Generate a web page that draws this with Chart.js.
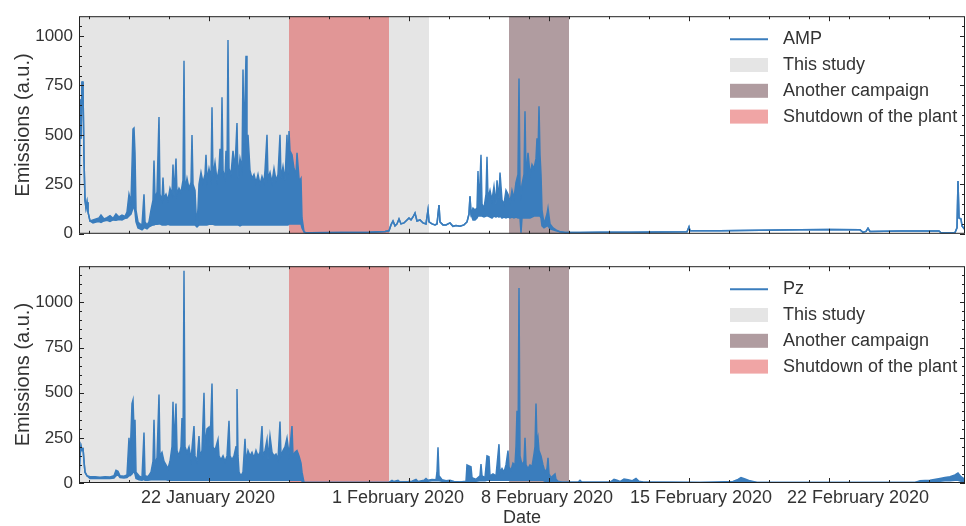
<!DOCTYPE html>
<html>
<head>
<meta charset="utf-8">
<script src="https://cdn.jsdelivr.net/npm/chart.js@4.4.1/dist/chart.umd.min.js"></script>
<style>
  body { margin: 0; background: #fff; }
  #wrap { position: relative; width: 966px; height: 526px; background: #fff; }
  canvas { position: absolute; left: 0; }
  #amp-chart { top: 0; }
  #pz-chart { top: 250px; }
</style>
</head>
<body>
<div id="wrap">
  <canvas id="amp-chart" width="966" height="250"></canvas>
  <canvas id="pz-chart" width="966" height="276"></canvas>
</div>
<script>
// x values are days since 1 January 2020 (21 = 22 January 2020)
const xRange = [14.5, 58.8];
const xMajorDays = [21, 31, 38, 45, 52];
const xMinorDays = [15, 17, 19, 23, 25, 27, 29, 33, 35, 37, 39, 41, 43, 47, 49, 51, 53, 55, 57];
// the date labels sit a little off their tick marks in the original figure
const xLabelDays = [20.95, 30.45, 37.9, 45.6, 53.45];
const xMajorLabels = ['22 January 2020', '1 February 2020', '8 February 2020', '15 February 2020', '22 February 2020'];

const ampMax = 1100;
const pzMax = 1200;
const yTicks = [0, 250, 500, 750, 1000];

// shaded periods
const periodNames = ['This study', 'Another campaign', 'Shutdown of the plant'];
const periodStart = [14.0, 36, 25];
const periodEnd = [32, 39, 30];

// emissions, each row: [day, lower envelope, upper envelope]
const ampRows = [
  [14.50, 10, 10], [14.55, 680, 680], [14.60, 480, 480], [14.65, 770, 770], [14.70, 740, 740],
  [14.75, 380, 380], [14.80, 170, 170], [14.85, 130, 130], [14.90, 160, 160], [14.95, 110, 110],
  [15.05, 65, 65], [15.20, 55, 70], [15.35, 60, 75], [15.50, 62, 80], [15.60, 58, 95],
  [15.75, 65, 75], [15.90, 68, 82], [16.05, 62, 92], [16.20, 70, 78], [16.35, 68, 100],
  [16.50, 72, 85], [16.65, 70, 95], [16.80, 78, 88], [16.90, 80, 110],
  [17.00, 90, 200], [17.10, 100, 160], [17.20, 130, 530], [17.25, 140, 535], [17.30, 110, 410],
  [17.35, 60, 120], [17.45, 30, 60], [17.55, 25, 50], [17.65, 20, 45], [17.75, 30, 200],
  [17.80, 30, 60], [17.90, 25, 45], [18.00, 35, 60],
  [18.10, 40, 120], [18.20, 45, 170], [18.25, 45, 370], [18.30, 48, 180], [18.40, 48, 210],
  [18.50, 50, 590], [18.55, 50, 200], [18.65, 45, 170], [18.70, 45, 285], [18.75, 45, 180],
  [18.85, 45, 200], [18.95, 48, 170], [19.05, 45, 230], [19.15, 45, 200], [19.20, 45, 350],
  [19.25, 45, 190], [19.35, 45, 380], [19.40, 45, 200], [19.50, 45, 230], [19.60, 45, 210],
  [19.70, 45, 270], [19.75, 45, 875], [19.80, 45, 220], [19.90, 45, 280], [20.00, 45, 230],
  [20.10, 45, 260], [20.15, 45, 500], [20.20, 45, 250], [20.30, 45, 220], [20.35, 40, 110],
  [20.40, 35, 50], [20.45, 40, 130],
  [20.50, 45, 250], [20.60, 45, 310], [20.70, 45, 260], [20.80, 45, 300], [20.85, 45, 400],
  [20.90, 45, 270], [21.00, 48, 330], [21.10, 48, 280], [21.15, 48, 640], [21.20, 48, 290],
  [21.30, 45, 360], [21.40, 45, 270], [21.50, 45, 330], [21.55, 45, 430], [21.60, 45, 300],
  [21.65, 45, 690], [21.70, 45, 320], [21.80, 45, 280], [21.85, 45, 420], [21.90, 45, 300],
  [21.95, 45, 980], [22.00, 45, 330], [22.10, 45, 300], [22.20, 45, 420], [22.30, 45, 330],
  [22.40, 45, 560], [22.45, 45, 280], [22.55, 40, 380], [22.65, 45, 330], [22.70, 45, 830],
  [22.75, 45, 450], [22.85, 45, 900], [22.90, 45, 420], [22.95, 45, 500], [23.05, 45, 320],
  [23.15, 45, 280], [23.25, 45, 300], [23.35, 45, 260], [23.45, 45, 300], [23.55, 45, 250],
  [23.65, 45, 290], [23.75, 45, 260], [23.80, 45, 320], [23.90, 45, 500], [23.95, 45, 280],
  [24.05, 45, 310], [24.15, 45, 260], [24.25, 45, 330], [24.35, 45, 270], [24.45, 45, 300],
  [24.55, 45, 500], [24.60, 45, 280], [24.70, 45, 340], [24.80, 45, 270], [24.90, 45, 500],
  [24.95, 45, 300], [25.00, 50, 520], [25.05, 50, 420], [25.15, 50, 400], [25.25, 50, 330],
  [25.35, 50, 300], [25.40, 50, 410], [25.50, 50, 280], [25.55, 50, 270], [25.60, 50, 280],
  [25.65, 30, 80], [25.75, 10, 10], [25.85, 5, 5],
  [26.05, 5, 5], [27.55, 6, 6], [29.05, 8, 8], [29.80, 12, 12], [30.00, 15, 15],
  [30.10, 45, 45], [30.20, 65, 65], [30.30, 40, 40], [30.40, 50, 50], [30.50, 75, 75],
  [30.60, 50, 50], [30.75, 55, 55], [30.90, 70, 70], [31.00, 80, 80], [31.10, 70, 70],
  [31.20, 85, 85], [31.30, 105, 105], [31.40, 65, 65], [31.55, 70, 70], [31.70, 55, 55],
  [31.85, 50, 50], [31.95, 120, 120], [32.00, 60, 60], [32.15, 50, 50], [32.30, 45, 45],
  [32.40, 50, 50], [32.50, 145, 145], [32.55, 60, 60], [32.70, 45, 45], [32.85, 45, 45],
  [33.05, 55, 55], [33.20, 38, 38], [33.35, 42, 42], [33.55, 38, 38], [33.75, 45, 45],
  [33.90, 60, 60], [34.00, 100, 100], [34.05, 190, 190], [34.10, 100, 100], [34.20, 70, 130],
  [34.30, 70, 120], [34.40, 80, 130], [34.45, 90, 317], [34.50, 90, 130], [34.60, 90, 400],
  [34.65, 90, 150], [34.75, 85, 130], [34.85, 90, 200], [34.90, 90, 390], [34.95, 90, 180],
  [35.05, 85, 220], [35.15, 80, 170], [35.25, 90, 240], [35.35, 85, 150], [35.40, 90, 270],
  [35.50, 85, 180], [35.55, 90, 310], [35.65, 80, 170], [35.75, 85, 150], [35.85, 80, 220],
  [35.95, 85, 200], [36.05, 80, 160], [36.15, 85, 220], [36.25, 80, 180], [36.35, 85, 260],
  [36.45, 80, 300], [36.50, 80, 785], [36.55, 80, 250], [36.60, 5, 200], [36.65, 80, 250],
  [36.75, 80, 300], [36.80, 80, 620], [36.85, 80, 280], [36.95, 80, 410], [37.05, 80, 300],
  [37.15, 85, 350], [37.25, 90, 330], [37.35, 90, 380], [37.40, 90, 483], [37.45, 90, 400],
  [37.50, 90, 645], [37.55, 90, 400], [37.60, 80, 300], [37.65, 40, 120], [37.75, 30, 50],
  [37.90, 40, 100], [37.95, 40, 130], [38.05, 25, 50], [38.20, 20, 30], [38.35, 15, 20],
  [38.55, 10, 10], [38.80, 6, 6], [39.55, 6, 6], [40.55, 8, 8], [42.05, 8, 8],
  [43.55, 9, 9], [44.90, 10, 10], [45.00, 35, 35], [45.05, 15, 15], [46.55, 16, 16],
  [48.55, 18, 18], [50.55, 20, 20], [52.05, 22, 22], [53.55, 20, 20], [53.70, 8, 8],
  [53.85, 12, 12], [53.95, 28, 28], [54.05, 12, 12], [55.55, 14, 14], [57.50, 14, 14],
  [57.60, 5, 5], [58.30, 6, 6], [58.40, 30, 30], [58.45, 267, 267], [58.50, 80, 80],
  [58.60, 75, 75], [58.65, 40, 40], [58.80, 20, 20]
];

const pzRows = [
  [14.50, 20, 20], [14.55, 150, 150], [14.60, 205, 205], [14.65, 180, 180], [14.70, 195, 195],
  [14.75, 120, 120], [14.80, 60, 60], [14.90, 40, 40], [15.05, 25, 35], [15.30, 25, 35],
  [15.55, 25, 32], [15.80, 26, 35], [16.05, 25, 33], [16.25, 28, 40], [16.35, 40, 70],
  [16.45, 45, 65], [16.55, 30, 40], [16.75, 28, 38], [16.90, 30, 45],
  [17.00, 40, 250], [17.05, 40, 120], [17.15, 50, 440], [17.20, 60, 460], [17.25, 60, 300],
  [17.30, 50, 350], [17.35, 25, 60], [17.50, 18, 40], [17.65, 15, 30], [17.75, 20, 280],
  [17.80, 15, 40], [17.95, 15, 35], [18.10, 18, 60], [18.20, 18, 120], [18.25, 18, 350],
  [18.30, 18, 100], [18.40, 18, 140], [18.50, 18, 490], [18.55, 18, 150], [18.65, 18, 170],
  [18.75, 18, 120], [18.85, 18, 100], [18.95, 15, 80], [19.05, 15, 120], [19.15, 15, 200],
  [19.20, 15, 450], [19.25, 15, 200], [19.35, 15, 440], [19.40, 15, 180], [19.50, 15, 150],
  [19.60, 15, 200], [19.65, 15, 360], [19.70, 15, 180], [19.75, 15, 1175], [19.80, 15, 200],
  [19.90, 15, 170], [20.00, 15, 200], [20.10, 15, 130], [20.25, 15, 315], [20.30, 15, 150],
  [20.40, 15, 120], [20.50, 15, 260], [20.55, 15, 150], [20.65, 15, 180], [20.75, 15, 500],
  [20.80, 15, 200], [20.90, 15, 300], [21.00, 15, 310], [21.05, 15, 200], [21.15, 15, 550],
  [21.20, 15, 200], [21.30, 15, 180], [21.45, 15, 240], [21.50, 15, 150], [21.60, 15, 130],
  [21.70, 15, 150], [21.80, 15, 120], [21.90, 15, 150], [22.00, 15, 345], [22.05, 15, 150],
  [22.15, 15, 130], [22.25, 15, 150], [22.35, 15, 200], [22.40, 15, 520], [22.45, 15, 150],
  [22.50, 15, 60], [22.60, 15, 40], [22.70, 15, 60], [22.80, 15, 245], [22.85, 15, 120],
  [22.95, 15, 180], [23.05, 15, 150], [23.15, 15, 170], [23.25, 15, 140], [23.35, 15, 180],
  [23.45, 15, 150], [23.55, 15, 170], [23.65, 15, 315], [23.70, 15, 150], [23.80, 15, 180],
  [23.90, 15, 240], [23.95, 15, 130], [24.05, 15, 260], [24.15, 15, 170], [24.25, 15, 150],
  [24.35, 15, 160], [24.45, 15, 130], [24.55, 15, 340], [24.60, 15, 150], [24.70, 15, 180],
  [24.80, 15, 200], [24.90, 15, 250], [25.00, 15, 160], [25.05, 15, 200], [25.15, 15, 315],
  [25.20, 15, 150], [25.30, 15, 170], [25.40, 15, 180], [25.50, 15, 150], [25.60, 15, 110],
  [25.65, 10, 60], [25.75, 3, 3], [29.55, 3, 3], [30.00, 4, 4], [30.15, 5, 15],
  [30.25, 5, 8], [30.45, 5, 15], [30.55, 5, 5], [30.95, 5, 8], [31.15, 5, 10],
  [31.35, 5, 20], [31.45, 5, 8], [31.75, 8, 15], [31.85, 8, 25], [31.95, 10, 15],
  [32.15, 12, 20], [32.35, 12, 18], [32.40, 12, 60], [32.45, 12, 198], [32.50, 12, 40],
  [32.65, 10, 18], [32.85, 8, 12], [33.05, 8, 15], [33.25, 5, 8], [33.55, 5, 6],
  [33.85, 5, 10], [33.90, 10, 100], [34.00, 10, 95], [34.10, 10, 90], [34.15, 10, 30],
  [34.35, 10, 20], [34.55, 12, 40], [34.60, 12, 105], [34.65, 12, 40], [34.80, 12, 30],
  [34.90, 15, 150], [35.00, 15, 145], [35.05, 15, 40], [35.20, 15, 50], [35.35, 15, 40],
  [35.50, 15, 215], [35.55, 15, 60], [35.65, 15, 80], [35.75, 15, 60], [35.85, 15, 100],
  [35.95, 15, 180], [36.00, 15, 90], [36.10, 15, 70], [36.20, 15, 110], [36.30, 15, 100],
  [36.35, 15, 200], [36.40, 15, 400], [36.45, 15, 150], [36.50, 15, 1080], [36.55, 15, 150],
  [36.65, 15, 100], [36.75, 15, 120], [36.80, 15, 250], [36.85, 15, 100], [36.95, 15, 80],
  [37.05, 15, 100], [37.15, 15, 90], [37.25, 15, 160], [37.30, 15, 200], [37.35, 15, 440],
  [37.40, 15, 220], [37.45, 15, 250], [37.50, 15, 180], [37.60, 15, 150], [37.70, 15, 100],
  [37.80, 10, 60], [37.90, 10, 80], [37.95, 10, 140], [38.00, 10, 50], [38.10, 8, 30],
  [38.20, 8, 40], [38.30, 8, 50], [38.35, 8, 20], [38.45, 5, 10], [38.65, 4, 4],
  [39.45, 4, 4], [39.55, 4, 15], [39.65, 4, 4], [41.05, 4, 4], [41.25, 4, 20],
  [41.40, 4, 15], [41.55, 4, 8], [41.75, 4, 22], [41.95, 4, 18], [42.15, 4, 12],
  [42.35, 4, 25], [42.50, 4, 10], [42.70, 4, 6], [45.55, 3, 3], [47.20, 3, 8],
  [47.45, 5, 20], [47.60, 5, 30], [47.80, 5, 22], [48.05, 5, 12], [48.40, 3, 3],
  [56.30, 3, 3], [56.55, 5, 12], [57.05, 8, 15], [57.55, 10, 25], [57.80, 12, 30],
  [58.05, 12, 35], [58.30, 15, 45], [58.45, 15, 55], [58.60, 10, 35], [58.80, 8, 20]
];

const lineColor = '#3a7dbd';
const periodColors = ['#e5e5e5', '#b09ca0', 'rgba(220, 40, 40, 0.42)'];
const inkColor = '#333';

Chart.defaults.font.family = '"Liberation Sans", Arial, sans-serif';
Chart.defaults.color = inkColor;

// Shaded periods behind the series
const bandsPlugin = {
    id: 'bands',
    beforeDatasetsDraw(chart) {
        const { ctx, chartArea: a, scales: { x } } = chart;
        ctx.save();
        ctx.beginPath();
        ctx.rect(a.left, a.top, a.right - a.left, a.bottom - a.top);
        ctx.clip();
        periodNames.forEach((name, i) => {
            const x0 = x.getPixelForValue(periodStart[i]);
            const x1 = x.getPixelForValue(periodEnd[i]);
            ctx.fillStyle = periodColors[i];
            ctx.fillRect(x0, a.top, x1 - x0, a.bottom - a.top);
        });
        ctx.restore();
    }
};

// Box frame with inward ticks on all four sides
const framePlugin = {
    id: 'frame',
    afterDatasetsDraw(chart) {
        const { ctx, chartArea: a, scales: { x, y } } = chart;
        ctx.save();
        ctx.strokeStyle = '#222';
        ctx.lineWidth = 1;
        ctx.strokeRect(a.left + 0.5, a.top + 0.5, a.right - a.left - 1, a.bottom - a.top - 1);

        const vTick = (v, len) => {
            const px = Math.round(x.getPixelForValue(v)) + 0.5;
            ctx.moveTo(px, a.bottom); ctx.lineTo(px, a.bottom - len);
            ctx.moveTo(px, a.top); ctx.lineTo(px, a.top + len);
        };
        const hTick = (v, len) => {
            const py = Math.round(y.getPixelForValue(v)) + 0.5;
            ctx.moveTo(a.left, py); ctx.lineTo(a.left + len, py);
            ctx.moveTo(a.right, py); ctx.lineTo(a.right - len, py);
        };
        ctx.beginPath();
        xMajorDays.forEach(d => vTick(d, 5));
        xMinorDays.forEach(d => vTick(d, 3));
        yTicks.forEach(v => hTick(v, 5));
        for (let v = 50; v < y.max; v += 50) {
            if (v % 250 !== 0) hTick(v, 3);
        }
        ctx.stroke();
        ctx.restore();
    }
};

// Legend in the upper right corner
const periodLegendPlugin = {
    id: 'periodLegend',
    afterDraw(chart, args, opts) {
        const { ctx, chartArea: a } = chart;
        const lx = a.right - 235;
        const tx = a.right - 182;
        const rowY = i => a.top + 23 + i * 25.8;
        ctx.save();
        ctx.strokeStyle = lineColor;
        ctx.lineWidth = 2;
        ctx.beginPath();
        ctx.moveTo(lx, rowY(0));
        ctx.lineTo(lx + 38, rowY(0));
        ctx.stroke();
        periodNames.forEach((name, i) => {
            ctx.fillStyle = periodColors[i];
            ctx.fillRect(lx, rowY(i + 1) - 7, 38, 14);
        });
        ctx.fillStyle = inkColor;
        ctx.font = '18px "Liberation Sans", Arial, sans-serif';
        ctx.textBaseline = 'middle';
        ctx.fillText(opts.name, tx, rowY(0));
        periodNames.forEach((name, i) => ctx.fillText(name, tx, rowY(i + 1)));
        ctx.restore();
    }
};

function makeChart(canvasId, rows, name, yMax, isBottom) {
    const upper = rows.map(r => ({ x: r[0], y: r[2] }));
    const lower = rows.map(r => ({ x: r[0], y: r[1] }));
    const lineStyle = {
        borderColor: lineColor,
        backgroundColor: lineColor,
        borderWidth: 1.5,
        pointRadius: 0,
        tension: 0
    };
    return new Chart(document.getElementById(canvasId), {
        type: 'line',
        data: {
            datasets: [
                { label: name, data: upper, fill: '+1', ...lineStyle },
                { label: name + ' low', data: lower, fill: false, ...lineStyle }
            ]
        },
        options: {
            responsive: false,
            animation: false,
            devicePixelRatio: 1,
            layout: { padding: { top: isBottom ? 13 : 14, right: 1, bottom: 0, left: 0 } },
            plugins: {
                legend: { display: false },
                tooltip: { enabled: false },
                periodLegend: { name: name }
            },
            scales: {
                x: {
                    type: 'linear',
                    min: xRange[0],
                    max: xRange[1],
                    afterBuildTicks: s => { s.ticks = xLabelDays.map(v => ({ value: v })); },
                    afterFit: s => { s.height = isBottom ? 43 : 16; },
                    grid: { display: false, drawTicks: false },
                    border: { display: false },
                    ticks: {
                        display: isBottom,
                        autoSkip: false,
                        maxRotation: 0,
                        padding: 4,
                        font: { size: 18 },
                        callback: (v, i) => xMajorLabels[i]
                    },
                    title: {
                        display: isBottom,
                        text: 'Date',
                        font: { size: 18, lineHeight: 0.9 },
                        padding: { top: 0, bottom: 0 }
                    }
                },
                y: {
                    min: 0,
                    max: yMax,
                    afterBuildTicks: s => { s.ticks = yTicks.map(v => ({ value: v })); },
                    afterFit: s => { s.width = 79; },
                    grid: { display: false, drawTicks: false },
                    border: { display: false },
                    ticks: { padding: 6, font: { size: 17 }, callback: v => String(v) },
                    title: {
                        display: true,
                        text: 'Emissions (a.u.)',
                        font: { size: 20 },
                        padding: { top: 11, bottom: 0 }
                    }
                }
            }
        },
        plugins: [bandsPlugin, framePlugin, periodLegendPlugin]
    });
}

makeChart('amp-chart', ampRows, 'AMP', ampMax, false);
makeChart('pz-chart', pzRows, 'Pz', pzMax, true);
</script>
</body>
</html>
